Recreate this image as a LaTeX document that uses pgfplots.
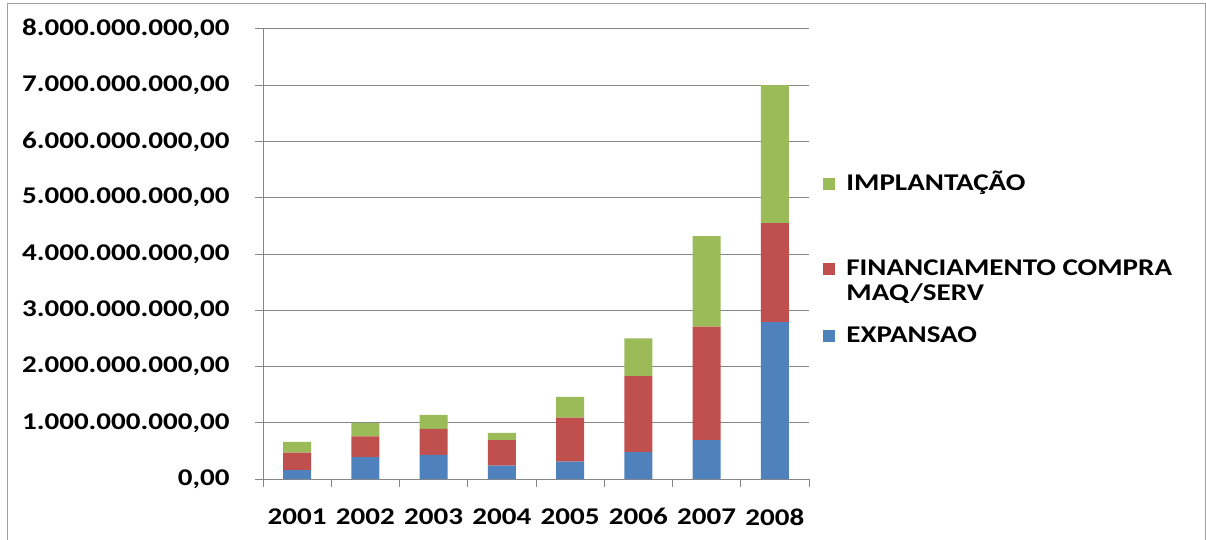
\documentclass[border=0pt]{standalone}
\usepackage{fontspec}
\setmainfont{Carlito}[FakeStretch=1.21]
\usepackage{pgfplots}
\pgfplotsset{compat=1.18}
\definecolor{cblue}{HTML}{4F81BD}
\definecolor{cred}{HTML}{C0504D}
\definecolor{cgreen}{HTML}{9BBB59}
\definecolor{axgray}{HTML}{868686}
\pgfplotstableread{
x blue red green
0 0.16 0.31 0.19
1 0.39 0.37 0.24
2 0.43 0.46 0.25
3 0.24 0.45 0.13
4 0.31 0.78 0.37
5 0.48 1.35 0.67
6 0.69 2.02 1.61
7 2.79 1.76 2.45
}\datatable
\newcommand{\lblfont}{\bfseries\fontsize{24}{25}\selectfont}
\begin{document}
\begin{tikzpicture}
\useasboundingbox (0,0) rectangle (1206pt,539pt);
\draw[axgray!80, line width=1pt] (7pt,-2pt) -- (7pt,535pt) -- (1205pt,535pt) -- (1205pt,-2pt);
\begin{axis}[
  at={(263pt,60pt)}, anchor=south west,
  scale only axis, width=546pt, height=450pt,
  xmin=-0.5, xmax=7.5, ymin=0, ymax=8,
  ybar stacked, bar width=0.41,
  axis x line*=bottom, axis y line*=left,
  axis line style={axgray, line width=1pt},
  ymajorgrids, grid style={axgray, line width=1pt},
  tick align=outside, major tick length=8pt,
  tick style={axgray, line width=1pt},
  ytick={0,1,...,8},
  yticklabels={{0,00},{1.000.000.000,00},{2.000.000.000,00},{3.000.000.000,00},{4.000.000.000,00},{5.000.000.000,00},{6.000.000.000,00},{7.000.000.000,00},{8.000.000.000,00}},
  xtick={-0.5,0.5,...,7.5}, xticklabels={},
  extra x ticks={0,1,...,7},
  extra x tick labels={2001,2002,2003,2004,2005,2006,2007,2008},
  extra x tick style={major tick length=0pt, grid=none},
  ticklabel style={font=\lblfont, text=black},
  yticklabel style={xshift=-22pt},
  xticklabel style={yshift=-26pt},
  legend image code/.code={\fill[#1] (0pt,0pt) rectangle (12pt,12pt);},
  reverse legend,
  legend style={at={(rel axis cs:1.026,0.682)}, anchor=north west, draw=none, fill=none,
    font=\lblfont, inner sep=0pt, row sep=10pt,
    cells={anchor=base west},
    /tikz/every odd column/.append style={column sep=9pt}},
]
\addplot[fill=cblue, draw=none] table[x=x, y=blue] {\datatable};
\addlegendentry[text height=16pt, text depth=6pt]{EXPANSAO}
\addplot[fill=cred, draw=none] table[x=x, y=red] {\datatable};
\addlegendentry[text height=16pt, text depth=37pt]{\vtop{\hbox{FINANCIAMENTO COMPRA}\hbox{MAQ/SERV}}}
\addplot[fill=cgreen, draw=none] table[x=x, y=green] {\datatable};
\addlegendentry[text height=16pt, text depth=55pt]{IMPLANTAÇÃO}
\end{axis}
\end{tikzpicture}
\end{document}
